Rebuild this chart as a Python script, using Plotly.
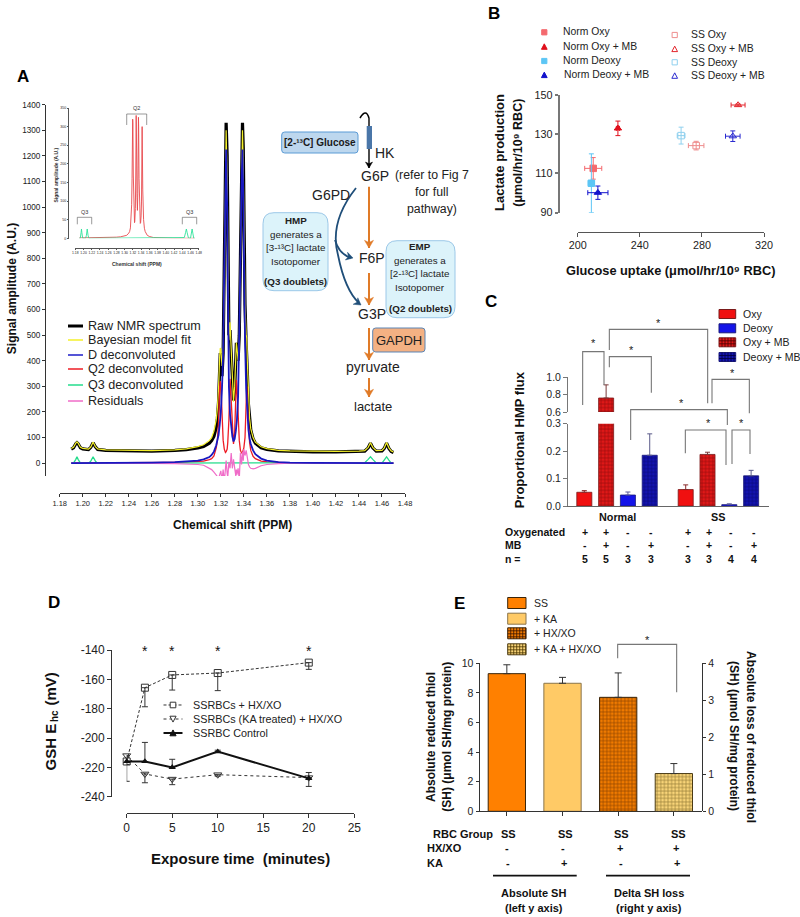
import plotly.graph_objects as go

W, H = 800, 917
FONT = "Liberation Sans"

# ---------- Panel A data ----------
a_shift = [1.190,1.192,1.194,1.195,1.196,1.198,1.200,1.205,1.207,1.209,1.211,1.213,1.220,1.240,1.260,1.280,1.290,1.300,1.305,1.310,
           1.312,1.314,1.316,1.317,1.318,1.319,1.3195,1.320,1.321,1.322,1.323,1.324,1.3246,1.3255,1.326,1.327,1.328,1.329,1.330,1.331,
           1.332,1.333,1.3335,1.334,1.335,1.336,1.337,1.338,1.3388,1.3395,1.340,1.341,1.342,1.3425,1.343,1.344,1.345,1.346,1.348,1.350,
           1.355,1.360,1.370,1.380,1.400,1.420,1.440,1.445,1.448,1.450,1.452,1.455,1.460,1.462,1.464,1.466,1.468,1.470]
a_raw = [55,60,76,80,76,60,56,53,62,80,64,54,50,48,47,50,53,60,65,78,
         88,105,140,175,240,370,430,400,340,430,720,1150,1329,1200,850,500,520,410,280,245,
         285,420,470,450,400,500,780,1150,1329,1230,1000,620,470,430,360,230,170,130,95,78,
         60,54,48,46,44,44,45,47,60,78,60,47,48,58,78,58,46,42]
a_fit = [57,62,78,83,78,62,58,55,63,83,65,56,52,50,49,52,56,65,72,88,
         100,125,170,215,290,420,450,445,380,450,680,1050,1300,1100,800,480,550,430,290,240,
         300,420,470,450,400,480,760,1100,1300,1150,950,620,500,490,400,250,175,135,100,82,
         64,57,50,48,46,46,47,49,62,80,62,49,50,60,81,60,48,44]
a_d = [0,0,0,0,0,0,0,0,0,0,0,0,1,1,2,4,6,10,15,24,
       32,45,70,85,110,150,175,200,290,430,760,1120,1225,1000,660,300,190,140,105,85,
       95,125,150,170,260,480,780,1100,1225,1050,840,480,290,240,200,130,95,75,50,35,
       18,10,4,2,1,0,0,0,0,0,0,0,0,0,0,0,0,0]
a_q2 = [1,1,1,1,1,1,1,1,1,1,1,1,1,1,2,3,4,6,8,14,
        18,28,60,90,160,300,320,310,170,90,55,42,45,55,80,170,330,240,110,75,
        120,280,325,300,160,90,50,40,42,50,60,100,250,300,240,130,80,50,27,18,
        8,5,2,1,1,0,0,0,0,0,0,0,0,0,0,0,0,0]
a_q3 = [0,0,15,25,15,0,0,0,8,25,8,0,0,0,0,0,0,0,0,0,
        0,0,0,0,0,0,0,0,0,0,0,0,0,0,0,0,0,0,0,0,
        0,0,0,0,0,0,0,0,0,0,0,0,0,0,0,0,0,0,0,0,
        0,0,0,0,0,0,0,2,15,25,15,1,0,12,25,12,0,0]
a_res = [0,0,1,1,0,0,0,0,1,1,0,0,0,0,-1,-2,-3,-5,-8,-18,
         -25,-35,-45,-52,-60,-42,-35,-30,-70,-25,-75,-10,10,-40,-55,5,-20,40,-20,15,
         -10,-50,-25,-45,-20,-65,40,-5,45,10,55,30,50,35,25,-5,-15,-20,-22,-20,
         -10,-5,-2,0,0,0,0,0,0,0,0,0,0,0,0,0,0,0]
a_ticks_y = [0,100,200,300,400,500,600,700,800,900,1000,1100,1200,1300,1400]
a_ticks_x = [1.18,1.20,1.22,1.24,1.26,1.28,1.30,1.32,1.34,1.36,1.38,1.40,1.42,1.44,1.46,1.48]
a_legend = ["Raw NMR spectrum","Bayesian model fit","D deconvoluted","Q2 deconvoluted","Q3 deconvoluted","Residuals"]
inset_ticks_y = [0,50,100,150,200,250,300,350]

# ---------- Panel B data ----------
b_names = ["Norm Oxy","Norm Oxy + MB","Norm Deoxy","Norm Deoxy + MB","SS Oxy","SS Oxy + MB","SS Deoxy","SS Deoxy + MB"]
b_glucose = [210,225.9,208.8,213,276.3,303.3,266.6,299.9]
b_glucose_err = [5.5,1,2,6.5,5,4.5,2.5,4.7]
b_lactate = [112.6,133,105,100.2,124.2,144.9,129.3,129]
b_lactate_err = [5.5,3.7,15,3.4,2.2,0.5,4.3,2.7]
b_colors = ["#f4696e","#e0101c","#5cc6f5","#1212cc","#ee8d8d","#e3242b","#8fd0ee","#2a2ad0"]
b_symbols = ["square","triangle-up","square","triangle-up","square-open","triangle-up-open","square-open","triangle-up-open"]

# ---------- Panel C data ----------
c_groups = ["Oxy","Deoxy","Oxy + MB","Deoxy + MB"]
c_normal = {"Oxy":0.05,"Oxy + MB":0.76,"Deoxy":0.04,"Deoxy + MB":0.185}
c_normal_err = {"Oxy":0.006,"Oxy + MB":0.15,"Deoxy":0.011,"Deoxy + MB":0.078}
c_ss = {"Oxy":0.06,"Oxy + MB":0.188,"Deoxy":0.005,"Deoxy + MB":0.11}
c_ss_err = {"Oxy":0.017,"Oxy + MB":0.008,"Deoxy":0.003,"Deoxy + MB":0.02}
c_oxygenated = ["+","+","-","-","+","+","-","-"]
c_mb = ["-","+","-","+","-","+","-","+"]
c_n = [5,5,3,3,3,3,4,4]

# ---------- Panel D data ----------
d_time = [0,2,5,10,20]
d_hx = [-216,-165.7,-157,-155.7,-148.6]
d_hx_minus = [2,13,10.3,12,4.6]
d_ka = [-212,-224.5,-228,-225,-227]
d_ka_minus = [1,6,3.8,1,6]
d_ctrl = [-216,-216,-220,-209.3,-227.5]
d_ctrl_plus = [0,13,5.5,1,4]
d_ctrl_minus = [13.5,0,0,0,0]
d_star_times = [2,5,10,20]
d_ticks_y = [-240,-220,-200,-180,-160,-140]

# ---------- Panel E data ----------
e_names = ["SS","+ KA","+ HX/XO","+ KA + HX/XO"]
e_abs = [9.3,8.65]
e_abs_err = [0.6,0.4]
e_delta = [3.08,1.02]
e_delta_err = [0.66,0.27]
e_hx = ["-","-","+","+"]
e_ka = ["-","+","-","+"]

# ---------- helpers ----------
def px(x): return x / W
def py(y): return 1 - y / H
def xdom(a, b): return [px(a), px(b)]
def ydom(top, bottom): return [py(bottom), py(top)]

ann, shapes = [], []
def T(x, y, s, size=10.5, bold=False, anchor="center", rot=0, color="#111"):
    ann.append(dict(x=px(x), y=py(y), xref="paper", yref="paper", text=f"<b>{s}</b>" if bold else s,
                    showarrow=False, xanchor=anchor, yanchor="middle", textangle=rot, borderpad=0, borderwidth=0,
                    font=dict(family=FONT, size=size, color=color)))
def L(pts, color="#777", width=1.2, dash=None):
    d = "M " + " L ".join(f"{px(x):.5f} {py(y):.5f}" for x, y in pts)
    ln = dict(color=color, width=width)
    if dash: ln["dash"] = dash
    shapes.append(dict(type="path", path=d, xref="paper", yref="paper", line=ln))
def ZZ(x, y, zx0, zy0):
    return (zx0 + x / 3, zy0 + y / 3)
def rbox(x0, y0, x1, y1, r, fill, line, lw=1):
    c = lambda a, b: f"{px(a):.5f} {py(b):.5f}"
    d = (f"M {c(x0+r,y0)} L {c(x1-r,y0)} Q {c(x1,y0)} {c(x1,y0+r)} L {c(x1,y1-r)} Q {c(x1,y1)} {c(x1-r,y1)} "
         f"L {c(x0+r,y1)} Q {c(x0,y1)} {c(x0,y1-r)} L {c(x0,y0+r)} Q {c(x0,y0)} {c(x0+r,y0)} Z")
    shapes.append(dict(type="path", path=d, xref="paper", yref="paper", fillcolor=fill, line=dict(color=line, width=lw), layer="below"))
def curve(seg, color, width):
    c = lambda a, b: f"{px(a):.5f} {py(b):.5f}"
    d = f"M {c(*seg[0])} " + " ".join(f"Q {c(*seg[i])} {c(*seg[i+1])}" for i in range(1, len(seg) - 1, 2))
    shapes.append(dict(type="path", path=d, xref="paper", yref="paper", line=dict(color=color, width=width)))
def head(x0, y0, x1, y1, color, s=5):
    dx, dy = x1 - x0, y1 - y0
    n = (dx * dx + dy * dy) ** 0.5
    ux, uy = dx / n, dy / n
    bx, by = x1 - ux * s * 1.7, y1 - uy * s * 1.7
    pts = [(x1, y1), (bx - uy * s, by + ux * s), (bx + ux * s * 0.5, by + uy * s * 0.5), (bx + uy * s, by - ux * s)]
    d = "M " + " L ".join(f"{px(a):.5f} {py(b):.5f}" for a, b in pts) + " Z"
    shapes.append(dict(type="path", path=d, xref="paper", yref="paper", fillcolor=color, line=dict(color=color, width=0.5)))
def arrow(x0, y0, x1, y1, color, width=2, s=4.5):
    L([(x0, y0), (x1, y1)], color, width)
    head(x0, y0, x1, y1, color, s)
def key(kind, cx, cy, s, color, filled=True, lw=1):
    if kind == "square":
        pts = [(cx-s,cy-s),(cx+s,cy-s),(cx+s,cy+s),(cx-s,cy+s)]
    elif kind == "up":
        pts = [(cx,cy-s*1.1),(cx+s*1.1,cy+s),(cx-s*1.1,cy+s)]
    else:
        pts = [(cx,cy+s*1.1),(cx+s*1.1,cy-s),(cx-s*1.1,cy-s)]
    d = "M " + " L ".join(f"{px(x):.5f} {py(y):.5f}" for x, y in pts) + " Z"
    shapes.append(dict(type="path", path=d, xref="paper", yref="paper",
                       fillcolor=color if filled else "white", line=dict(color=color, width=lw)))
def swatch(x0, y0, x1, y1, fill, edge, grid=None, step=3):
    shapes.append(dict(type="rect", x0=px(x0), x1=px(x1), y0=py(y0), y1=py(y1), xref="paper", yref="paper",
                       fillcolor=fill, line=dict(color=edge, width=1)))
    if grid:
        x = x0 + step
        while x < x1:
            L([(x, y0), (x, y1)], grid, 0.8); x += step
        y = y0 + step
        while y < y1:
            L([(x0, y), (x1, y)], grid, 0.8); y += step

def xax(dom, rng, pos, vals, text=None, size=10, color="#333", lw=1, ticklen=3.5, **kw):
    a = dict(domain=dom, range=rng, anchor="free", position=pos, tickmode="array", tickvals=vals, showgrid=False, zeroline=False,
             showline=True, linecolor=color, linewidth=lw, ticks="outside", ticklen=ticklen, tickcolor=color, tickwidth=lw,
             tickfont=dict(family=FONT, size=size, color="#222"))
    if text is not None: a["ticktext"] = text
    a.update(kw)
    return a
yax = xax

fig = go.Figure()
layout = {}

# ---------- Panel A ----------
layout["xaxis"] = xax(xdom(59.7, 405), [1.18, 1.48], py(492.7), a_ticks_x, [f"{v:.2f}" for v in a_ticks_x], size=7.5, ticklen=3, tickangle=0)
layout["yaxis"] = yax(ydom(104.7, 476), [-50, 1400], px(45), a_ticks_y, size=8.2, ticklen=3)
a_series = [(a_raw,"#000000",3.2),(a_fit,"#f4f02a",1.2),(a_q2,"#ee1c25",1.3),(a_q3,"#24dc8c",1.3),(a_res,"#f06cc8",1.2),(a_d,"#1818c0",1.8)]
for name, (vals, col, w) in zip(["Raw NMR spectrum","Bayesian model fit","Q2 deconvoluted","Q3 deconvoluted","Residuals","D deconvoluted"], a_series):
    fig.add_trace(go.Scatter(x=a_shift, y=vals, mode="lines", name=name, line=dict(color=col, width=w), showlegend=False, xaxis="x", yaxis="y"))
# inset
layout["xaxis2"] = xax(xdom(75.3, 198.7), [1.18, 1.48], py(248), a_ticks_x, [f"{v:.2f}" for v in a_ticks_x], size=3.4, ticklen=1.5, lw=0.5, color="#555", tickangle=0)
layout["yaxis2"] = yax(ydom(108, 238.3), [0, 350], px(68.3), inset_ticks_y, size=3.6, ticklen=1.5, lw=0.5, color="#555")
fig.add_trace(go.Scatter(x=a_shift, y=a_q2, mode="lines", line=dict(color="#e8474c", width=0.9), showlegend=False, xaxis="x2", yaxis="y2", cliponaxis=False))
fig.add_trace(go.Scatter(x=a_shift, y=a_q3, mode="lines", line=dict(color="#2ee29a", width=0.9), showlegend=False, xaxis="x2", yaxis="y2", cliponaxis=False))
T(55.5, 175, "Signal amplitude (A.U.)", 5, True, rot=-90, color="#333")
T(137, 263.5, "Chemical shift (PPM)", 5, True, color="#333")
T(136.5, 108, "Q2", 5.5, color="#333")
L([(126.7,125),(126.7,114),(146.7,114),(146.7,125)], "#555", 0.6)
T(84.7, 212, "Q3", 5.5, color="#333"); L([(77.3,224.3),(77.3,217.3),(91.7,217.3),(91.7,224.3)], "#555", 0.6)
T(189, 212, "Q3", 5.5, color="#333"); L([(182.3,224.3),(182.3,217.3),(196.7,217.3),(196.7,224.3)], "#555", 0.6)

T(23, 76, "A", 17, True, color="#000")
T(11.5, 288.7, "Signal amplitude (A.U.)", 12, True, rot=-90, color="#111")
T(232.5, 525, "Chemical shift (PPM)", 12, True, color="#111")
a_leg_y = [326, 340, 355, 369, 385, 401]
a_leg_col = ["#000000","#f4f02a","#1c1cc8","#ee1c25","#24dc8c","#f06cc8"]
a_leg_w = [3,1.5,1.5,1.5,1.5,1.5]
for n, yy, c, w in zip(a_legend, a_leg_y, a_leg_col, a_leg_w):
    L([(68,yy),(83,yy)], c, w)
    T(87.7, yy, n, 12.6, anchor="left", color="#222")

# pathway diagram
rbox(281.7,132,358,153,3,"#bdd7ee","#5b9bd5",1)
T(319.8,142.5,"[2-¹³C] Glucose",10,True,color="#1a1a1a")
rbox(372.7,328,425,352,3,"#f4b183","#5b85b5",1)
T(399,340,"GAPDH",13,color="#222")
rbox(263,212.7,328,290.7,11,"#dcf3fa","#9cc8e8",1)
for yy,s,b in [(220,"HMP",True),(234,"generates a",False),(247.7,"[3-¹³C] lactate",False),(261,"Isotopomer",False),(281.7,"(Q3 doublets)",True)]:
    T(295.5,yy,s,9.8,b,color="#222")
rbox(386,240.7,455,317.7,11,"#dcf3fa","#9cc8e8",1)
for yy,s,b in [(246.7,"EMP",True),(260.7,"generates a",False),(274,"[2-¹³C] lactate",False),(287.7,"Isotopomer",False),(308,"(Q2 doublets)",True)]:
    T(420,yy,s,9.8,b,color="#222")
for x0,y0,x1,y1 in [(369,186.7,369,248),(369,273,369,305),(369,328,369,360),(369,378,369,397)]:
    arrow(x0,y0,x1,y1,"#e07b28",2)
curve([(356,188),(329,222),(338,255),(345,290),(359,303)],"#1f4e79",1.8)
curve([(335,240),(339,254),(351,258)],"#1f4e79",1.8)
head(354,300,361,305,"#1f4e79",4)
head(346,256,353,258,"#1f4e79",4)
curve([(360,118),(366,108),(369,118)],"#000",1.6)
arrow(369,118,369,168,"#000",1.4,3.5)
shapes.append(dict(type="rect",x0=px(366.7),x1=px(372),y0=py(126),y1=py(149),xref="paper",yref="paper",fillcolor="#4a76a8",line=dict(width=0)))
T(384.7,152.7,"HK",14,color="#222")
T(375,175.7,"G6P",14,color="#222")
T(331,195,"G6PD",14,color="#222")
T(372,258,"F6P",14,color="#222")
T(372,314,"G3P",14,color="#222")
T(373.3,366.7,"pyruvate",14,color="#222")
T(373,406,"lactate",13,color="#222")
T(431.7,175,"(refer to Fig 7",12.3,color="#222")
T(431.7,192,"for full",12.3,color="#222")
T(431.7,209,"pathway)",12.3,color="#222")

# ---------- Panel B ----------
layout["xaxis3"] = xax(xdom(577.7,764),[200,320],py(232),[200,240,280,320],size=10.8,color="#555")
layout["yaxis3"] = yax(ydom(95,212.7),[90,150],px(559),[90,110,130,150],size=10.8,color="#777",lw=1.6)
for i,n in enumerate(b_names):
    fig.add_trace(go.Scatter(x=[b_glucose[i]],y=[b_lactate[i]],mode="markers",name=n,showlegend=False,cliponaxis=False,xaxis="x3",yaxis="y3",
        marker=dict(symbol=b_symbols[i],color=b_colors[i],size=6.5,line=dict(color=b_colors[i],width=1)),
        error_x=dict(type="data",array=[b_glucose_err[i]],color=b_colors[i],thickness=1,width=2.5),
        error_y=dict(type="data",array=[b_lactate_err[i]],color=b_colors[i],thickness=1,width=2.5)))
T(494,13,"B",17,True,color="#000")
b_key = [(544.3,32.3,"square"),(544.3,46.7,"up"),(544.3,61,"square"),(544.3,75,"up"),(674.7,35,"square"),(674.7,49,"up"),(674.7,62.3,"square"),(674.7,75.7,"up")]
b_tx = [562.7,562.7,562.7,564,690.7,690.7,690.7,690.7]
for i,n in enumerate(b_names):
    cx,cy,k = b_key[i]
    key(k,cx,cy,2.6,b_colors[i],filled=i<4)
    T(b_tx[i],cy-(0.3 if i<4 else 0),n,10.4,anchor="left",color="#222")
T(500,153,"Lactate production",13,True,rot=-90)
T(517.7,153,"(μmol/hr/10⁹ RBC)",12.5,True,rot=-90)
T(670.7,270.7,"Glucose uptake (μmol/hr/10⁹ RBC)",12.8,True)

# ---------- Panel C ----------
c_x_unit = list(range(8))
c_x = [i + (0.65 if i >= 4 else 0) for i in c_x_unit]
c_pos = {"Oxy":(c_x[0],c_x[4]),"Oxy + MB":(c_x[1],c_x[5]),"Deoxy":(c_x[2],c_x[6]),"Deoxy + MB":(c_x[3],c_x[7])}
layout["xaxis4"] = xax(xdom(567,769),[-0.794,8.47],py(506),[],color="#666",lw=1.2,showticklabels=False,ticks="")
layout["yaxis4"] = yax(ydom(423.7,506),[0,0.3],px(566.7),[0,0.1,0.2,0.3],["0.0","0.1","0.2","0.3"],size=10.5,color="#777",lw=1.3)
layout["yaxis5"] = yax(ydom(377,412),[0.6,1.0],px(566.7),[0.6,0.8,1.0],["0.6","0.8","1.0"],size=10.5,color="#777",lw=1.3)
c_style = {"Oxy":dict(color="#f01010",line=dict(color="#7a1a1a",width=0.8)),
           "Deoxy":dict(color="#1414e8",line=dict(color="#1a1a7a",width=0.8)),
           "Oxy + MB":dict(color="#d81818",line=dict(color="#7a1a1a",width=0.8),pattern=dict(shape="+",fgcolor="#4a0000",bgcolor="#e01818",size=3.6,solidity=0.32)),
           "Deoxy + MB":dict(color="#1010a8",line=dict(color="#1a1a7a",width=0.8),pattern=dict(shape="+",fgcolor="#000040",bgcolor="#1414b0",size=3.6,solidity=0.32))}
c_errc = {"Oxy":"#8a2a2a","Deoxy":"#5a5a9a","Oxy + MB":"#7a3a3a","Deoxy + MB":"#5a5a8a"}
for g in c_groups:
    vals = [c_normal[g], c_ss[g]]
    errs = [c_normal_err[g], c_ss_err[g]]
    low_err = [errs[0] if vals[0] <= 0.3 else 0, errs[1]]
    fig.add_trace(go.Bar(x=c_pos[g],y=vals,name=g,width=0.69,xaxis="x4",yaxis="y4",marker=c_style[g],showlegend=False,
                         error_y=dict(type="data",symmetric=False,array=low_err,arrayminus=[0,0],color=c_errc[g],thickness=1,width=2.5)))
    if vals[0] > 0.3:
        fig.add_trace(go.Bar(x=c_pos[g][:1],y=[vals[0]-0.6],base=0.6,name=g,width=0.69,xaxis="x4",yaxis="y5",marker=c_style[g],showlegend=False,cliponaxis=False,
                             error_y=dict(type="data",symmetric=False,array=errs[:1],arrayminus=[0],color=c_errc[g],thickness=1,width=2.5)))
c_leg_y = [314,328.3,342.3,357]
c_leg_style = [("#f01010","#7a1a1a",None),("#1414e8","#1a1a7a",None),("#e01818","#7a1a1a","#4a0000"),("#1414b0","#1a1a7a","#000040")]
for g,yy,(f,e,gr) in zip(c_groups,c_leg_y,c_leg_style):
    swatch(719,yy-4.5,735.7,yy+4.5,f,e,gr)
    T(743.3,yy,g,10.5,anchor="left",color="#222")
T(491,301,"C",17,True,color="#000")
T(519.3,440,"Proportional HMP flux",13,True,rot=-90)
T(617,516.7,"Normal",10.8,True); T(718.3,516.7,"SS",10.8,True)
T(505,532,"Oxygenated",10.5,True,anchor="left"); T(505,545,"MB",10.5,True,anchor="left"); T(505,558.7,"n =",10.5,True,anchor="left")
c_col_px = [585,606.3,628.3,651.3,687.7,709.3,731.3,754]
for i,cx in enumerate(c_col_px):
    T(cx,532,c_oxygenated[i],10.5,True); T(cx,545,c_mb[i],10.5,True); T(cx,558.7,str(c_n[i]),10.5,True)
c_brackets = [([(308,345),(308,185),(372,185),(372,285)],(340,160)),
              ([(388,180),(388,118),(683,118),(683,340)],(534,98)),
              ([(388,232),(388,200),(514,200),(514,308)],(455,180)),
              ([(696,340),(696,268),(808,268),(808,370)],(757,249)),
              ([(452,450),(452,359),(742,359),(742,405)],(605,339)),
              ([(616,490),(616,420),(738,420),(738,525)],(686,400)),
              ([(756,522),(756,420),(810,420),(810,492)],(784,398))]
for pts,st in c_brackets:
    L([ZZ(a,b,480,290) for a,b in pts],"#777",1.1)
    sx,sy = ZZ(st[0],st[1],480,290)
    T(sx,sy,"*",11,color="#222")

# ---------- Panel D ----------
layout["xaxis5"] = xax(xdom(126.7,354.3),[0,25],py(813),[0,5,10,15,20,25],size=12,color="#333",lw=1.2)
layout["yaxis6"] = yax(ydom(650,796.7),[-240,-140],px(110.7),d_ticks_y,[str(v) for v in d_ticks_y],size=12,color="#333",lw=1.2)
def derr(plus,minus,c="#333"):
    return dict(type="data",symmetric=False,array=plus,arrayminus=minus,color=c,thickness=1,width=3)
zero5 = [0,0,0,0,0]
fig.add_trace(go.Scatter(x=d_time,y=d_ka,mode="lines+markers",name="SSRBCs (KA treated) + HX/XO",showlegend=False,cliponaxis=False,xaxis="x5",yaxis="y6",
    line=dict(color="#333",width=1,dash="dot"),marker=dict(symbol="triangle-down-open",color="#333",size=7,line=dict(width=1,color="#333")),error_y=derr(zero5,d_ka_minus)))
fig.add_trace(go.Scatter(x=d_time,y=d_hx,mode="lines+markers",name="SSRBCs + HX/XO",showlegend=False,cliponaxis=False,xaxis="x5",yaxis="y6",
    line=dict(color="#333",width=1,dash="3px,2px"),marker=dict(symbol="square-open",color="#333",size=7,line=dict(width=1,color="#333")),error_y=derr(zero5,d_hx_minus)))
fig.add_trace(go.Scatter(x=d_time,y=d_ctrl,mode="lines+markers",name="SSRBC Control",showlegend=False,cliponaxis=False,xaxis="x5",yaxis="y6",
    line=dict(color="#111",width=2),marker=dict(symbol="triangle-up",color="#111",size=6.5),error_y=derr(d_ctrl_plus,d_ctrl_minus)))
T(54,602,"D",17,True,color="#000")
for t in d_star_times:
    ann.append(dict(x=t,y=-141,xref="x5",yref="y6",text="*",showarrow=False,font=dict(family=FONT,size=14,color="#111")))
T(50,747.5,"GSH E",15,True,rot=-90)
T(54.5,716.5,"hc",10,True,rot=-90)
T(50,689.5,"(mV)",15,True,rot=-90)
T(240.7,858,"Exposure time  (minutes)",15,True)
d_leg = [(705,"SSRBCs + HX/XO"),(719,"SSRBCs (KA treated) + HX/XO"),(733,"SSRBC Control")]
L([(163.5,705),(182.5,705)],"#333",1,"3px,2px")
key("square",173,705,2.8,"#333",False,1)
L([(163.5,719),(182.5,719)],"#333",1,"dot")
key("down",173,719,2.8,"#333",False,1)
L([(163.5,733),(182.5,733)],"#111",2)
key("up",173,733,2.8,"#111",True,1)
for yy,s in d_leg:
    T(192.7,yy,s,10.8,anchor="left",color="#222")

# ---------- Panel E ----------
layout["xaxis6"] = xax(xdom(479,701.7),[-0.5,3.5],py(811.3),[0,1,2,3],color="#333",lw=1,showticklabels=False)
layout["yaxis7"] = yax(ydom(663.3,811.3),[0,10],px(479),[0,2,4,6,8,10],size=10.5,color="#333",lw=1)
layout["yaxis8"] = yax(ydom(663.3,811.3),[0,4],px(701.7),[0,1,2,3,4],size=10.5,color="#333",lw=1,side="right")
e_style = [dict(color="#ff8000",line=dict(color="#3a2408",width=1)),
           dict(color="#ffca66",line=dict(color="#8a744a",width=1)),
           dict(color="#e87408",line=dict(color="#3a2408",width=1),pattern=dict(shape="+",fgcolor="#3a1500",bgcolor="#f07a00",size=3.6,solidity=0.36)),
           dict(color="#f5d070",line=dict(color="#4a3a14",width=1),pattern=dict(shape="+",fgcolor="#3f2d00",bgcolor="#f8d478",size=3.6,solidity=0.36))]
for i,(v,e) in enumerate(zip(e_abs,e_abs_err)):
    fig.add_trace(go.Bar(x=[i],y=[v],name=e_names[i],width=0.67,xaxis="x6",yaxis="y7",marker=e_style[i],showlegend=False,
        error_y=dict(type="data",symmetric=False,array=[e],arrayminus=[0],color="#333",thickness=1,width=3.5)))
for j,(v,e) in enumerate(zip(e_delta,e_delta_err)):
    i=j+2
    fig.add_trace(go.Bar(x=[i],y=[v],name=e_names[i],width=0.67,xaxis="x6",yaxis="y8",marker=e_style[i],showlegend=False,
        error_y=dict(type="data",symmetric=False,array=[e],arrayminus=[0],color="#333",thickness=1,width=3.5)))
e_leg_y = [603,618.7,633.3,649.3]
e_leg_style = [("#ff8000","#3a2408",None),("#ffca66","#8a744a",None),("#f07a00","#3a2408","#3a1500"),("#f8d478","#4a3a14","#4a3500")]
for n,yy,(f,ed,gr) in zip(e_names,e_leg_y,e_leg_style):
    swatch(507.7,yy-5.5,526,yy+5.5,f,ed,gr)
    T(534,yy,n,10.5,anchor="left",color="#222")
T(460,603,"E",17,True,color="#000")
T(431,737,"Absolute reduced thiol",12,True,rot=-90)
T(446.7,737,"(SH) (μmol SH/mg protein)",12,True,rot=-90)
T(751.7,736.7,"Absolute loss of reduced thiol",12,True,rot=90)
T(734,736,"(SH) (μmol SH/mg protein)",12,True,rot=90)
T(492.7,834,"RBC Group",11,True,anchor="right")
T(427,848.3,"HX/XO",11,True,anchor="left")
T(427,862.7,"KA",11,True,anchor="left")
e_col_px = [508.7,565,621.7,678.3]
for i,cx in enumerate(e_col_px):
    T(cx,834,"SS",11,True)
    T(cx-2,848.3,e_hx[i],11,True)
    T(cx-1,862.7,e_ka[i],11,True)
L([(493,875.7),(576.7,875.7)],"#111",1.8)
L([(606,875.7),(690,875.7)],"#111",1.8)
T(533.7,892.7,"Absolute SH",11,True); T(533.7,907.7,"(left y axis)",11,True)
T(649,892.7,"Delta SH loss",11,True); T(649,907.7,"(right y axis)",11,True)
L([ZZ(a,b,430,590) for a,b in [(563,205),(563,163),(740,163),(740,307)]],"#777",1.1)
T(430+652/3,590+149/3,"*",11,color="#222")

fig.update_layout(width=W,height=H,margin=dict(l=0,r=0,t=0,b=0,pad=0,autoexpand=False),autosize=False,paper_bgcolor="white",plot_bgcolor="rgba(0,0,0,0)",
                  barmode="overlay",showlegend=False,annotations=ann,shapes=shapes,font=dict(family=FONT),**layout)
fig.write_html("out.html",config=dict(displayModeBar=False),post_script="document.body.style.margin='0';")
